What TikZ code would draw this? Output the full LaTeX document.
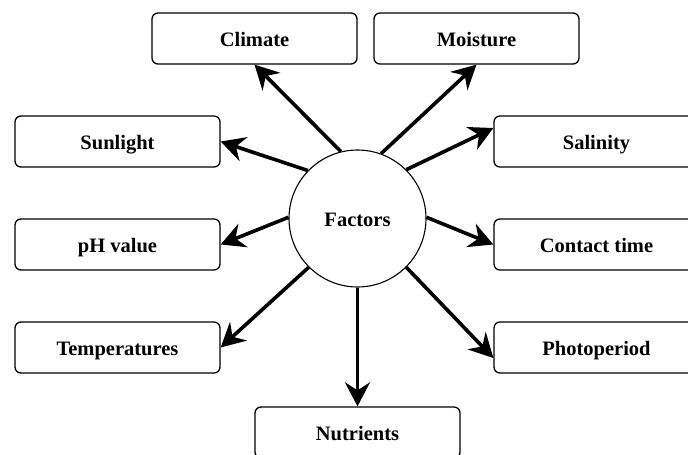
\documentclass[tikz,border=0pt]{standalone}
\usepackage{fontspec}
\setmainfont{Liberation Serif}
\usetikzlibrary{arrows.meta,calc}
\begin{document}
\begin{tikzpicture}[x=1pt,y=-1pt,
  box/.style={draw, line width=1.3pt, rounded corners=6pt, minimum width=205pt, minimum height=51pt,
    inner sep=0pt, text height=19pt, text depth=4pt, font=\fontsize{20.5}{24}\selectfont\bfseries},
  hub/.style={draw, circle, line width=1.1pt, minimum size=137pt, inner sep=0pt,
    text height=19pt, text depth=4pt, font=\fontsize{20.5}{24}\selectfont\bfseries},
  arr/.style={line width=3.6pt, -{Stealth[length=24pt,width=25pt,inset=8pt]}}]
\useasboundingbox (0,0) rectangle (688,455);
\clip (0,0) rectangle (688,455);
\node[hub] (f) at (357.5,218.5) {Factors};
\node[box] (clim) at (254.5,38.5) {Climate};
\node[box] (mois) at (476.5,38.5) {Moisture};
\node[box] (sun) at (117.5,141.5) {Sunlight};
\node[box] (sal) at (596.5,141.5) {Salinity};
\node[box] (ph) at (117.5,244.5) {pH value};
\node[box] (ct) at (596.5,244.5) {Contact time};
\node[box] (temp) at (117.5,347.5) {Temperatures};
\node[box] (photo) at (596.5,347.5) {Photoperiod};
\node[box] (nut) at (357.5,432.5) {Nutrients};
\coordinate (salin) at ($(sal.west)+(0,-13.5)$);
\coordinate (photoin) at ($(photo.west)+(0,10.5)$);
\draw[arr] (f.104.7) -- (clim.south);
\draw[arr] (f.70.3) -- (mois.south);
\draw[arr] (f.136.8) -- (sun.east);
\draw[arr] (f.45) -- (salin);
\draw[arr] (f.179) -- (ph.east);
\draw[arr] (f.1) -- (ct.west);
\draw[arr] (f.225) -- (temp.east);
\draw[arr] (f.315.6) -- (photoin);
\draw[arr] (f.270) -- (nut.north);
\end{tikzpicture}
\end{document}
